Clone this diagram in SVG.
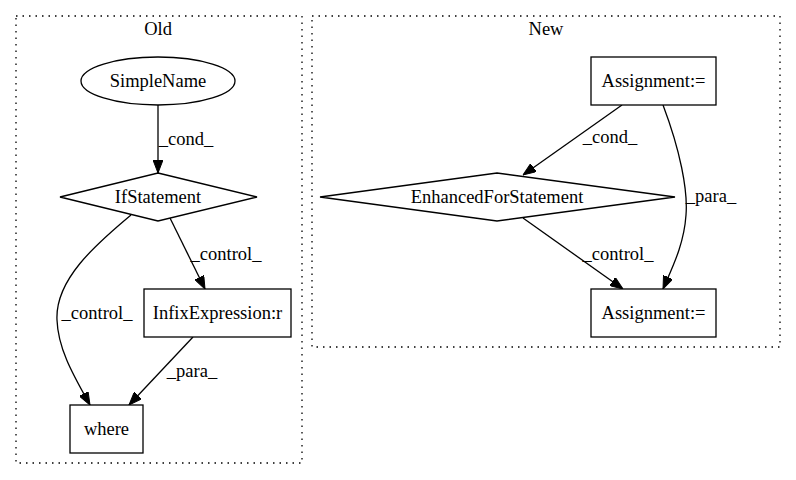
<svg xmlns="http://www.w3.org/2000/svg" width="796" height="480" viewBox="0 0 796 480">
<style>
text{font-family:"Liberation Serif","Times New Roman",serif;font-size:18.5px;fill:#000;text-anchor:middle}
.cl{fill:none;stroke:#000;stroke-width:1.3;stroke-dasharray:1.5,5}
.n{fill:#fff;stroke:#000;stroke-width:1.3}
.e{fill:none;stroke:#000;stroke-width:1.3;marker-end:url(#ah)}
</style>
<defs>
<marker id="ah" viewBox="0 0 13 10" refX="13" refY="5" markerWidth="13" markerHeight="10" markerUnits="userSpaceOnUse" orient="auto">
<path d="M0,0 L13,5 L0,10 z" fill="#000" stroke="#000" stroke-width="1"/>
</marker>
</defs>
<rect width="796" height="480" fill="#fff"/>
<g id="cluster_old">
<rect class="cl" x="16" y="16" width="286" height="447"/>
<text x="158" y="35">Old</text>
</g>
<g id="cluster_new">
<rect class="cl" x="312" y="16" width="468" height="331"/>
<text x="546" y="35">New</text>
</g>
<g id="edges">
<path class="e" d="M158,105 L158,173"/>
<text x="186" y="145">_cond_</text>
<path class="e" d="M170,218 L205,289"/>
<text x="226" y="260">_control_</text>
<path class="e" d="M131,215 C95,245 55,280 57,320 C58,350 75,378 90,405"/>
<text x="97" y="319">_control_</text>
<path class="e" d="M193,337 L129,405"/>
<text x="192" y="377">_para_</text>
<path class="e" d="M622,105 L523,175"/>
<text x="610" y="143">_cond_</text>
<path class="e" d="M663,105 C680,150 688,190 686,215 C684,245 672,268 663,289"/>
<text x="711" y="202">_para_</text>
<path class="e" d="M523,218 L623,289"/>
<text x="618" y="260">_control_</text>
</g>
<g id="SimpleName">
<ellipse class="n" cx="158" cy="81" rx="77" ry="24"/>
<text x="158" y="87">SimpleName</text>
</g>
<g id="IfStatement">
<polygon class="n" points="158,173 257,197 158,221 60,197"/>
<text x="158" y="203">IfStatement</text>
</g>
<g id="InfixExpression">
<rect class="n" x="144" y="289" width="147" height="48"/>
<text x="217.5" y="319">InfixExpression:r</text>
</g>
<g id="where">
<rect class="n" x="70" y="405" width="73" height="48"/>
<text x="106.5" y="435">where</text>
</g>
<g id="Assignment1">
<rect class="n" x="591" y="57" width="125" height="48"/>
<text x="653.5" y="87">Assignment:=</text>
</g>
<g id="EnhancedForStatement">
<polygon class="n" points="497,173 675,197 497,221 320,197"/>
<text x="497" y="203">EnhancedForStatement</text>
</g>
<g id="Assignment2">
<rect class="n" x="591" y="289" width="125" height="48"/>
<text x="653.5" y="319">Assignment:=</text>
</g>
</svg>
